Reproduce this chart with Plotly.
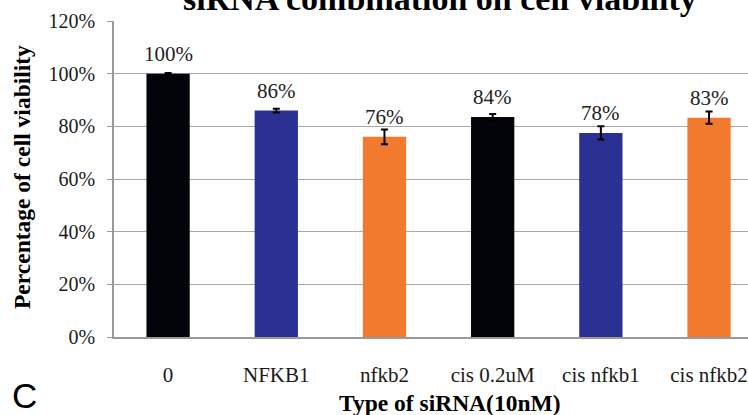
import plotly.graph_objects as go

categories = ["0", "NFKB1", "nfkb2", "cis 0.2uM", "cis nfkb1", "cis nfkb2"]
viability = [100, 86, 76, 83.5, 77.5, 83.3]
errors = [0.3, 0.7, 2.8, 1.2, 2.5, 2.3]
labels = ["100%", "86%", "76%", "84%", "78%", "83%"]
colors = ["#03030a", "#2b3192", "#f27a2e", "#03030a", "#2b3192", "#f27a2e"]
y_ticks = [0, 20, 40, 60, 80, 100, 120]

W, H = 748, 415
L, T, B = 114, 21, 78
plot_h = H - T - B
plot_w = W - L

serif = "Liberation Serif"

fig = go.Figure()
fig.add_trace(go.Bar(
    x=list(range(len(categories))), y=viability,
    marker=dict(color=colors, line=dict(width=0)),
    width=0.4,
    error_y=dict(type="data", array=errors, visible=True, color="black", thickness=2, width=3.5),
    showlegend=False,
))

annotations = []
for i, (v, lab) in enumerate(zip(viability, labels)):
    annotations.append(dict(x=i, y=v, text=lab, showarrow=False, xref="x", yref="y",
                            yanchor="middle", yshift=20,
                            font=dict(family=serif, size=21, color="#222222")))

def px_x(px):
    return (px - L) / plot_w

def px_y(py):
    return (H - B - py) / plot_h

annotations.append(dict(x=px_x(440), y=px_y(-2), xref="paper", yref="paper",
                        text="<b>siRNA combination on cell viability</b>", showarrow=False,
                        xanchor="center", yanchor="middle",
                        font=dict(family=serif, size=34, color="black")))
annotations.append(dict(x=px_x(22), y=px_y(177), xref="paper", yref="paper",
                        text="<b>Percentage of cell viability</b>", showarrow=False,
                        textangle=-90, xanchor="center", yanchor="middle",
                        font=dict(family=serif, size=23.5, color="black")))
annotations.append(dict(x=px_x(450), y=px_y(403), xref="paper", yref="paper",
                        text="<b>Type of siRNA(10nM)</b>", showarrow=False,
                        xanchor="center", yanchor="middle",
                        font=dict(family=serif, size=23.5, color="black")))
annotations.append(dict(x=px_x(24), y=px_y(395), xref="paper", yref="paper",
                        text="C", showarrow=False,
                        xanchor="center", yanchor="middle",
                        font=dict(family="Liberation Sans", size=35, color="black")))

fig.update_layout(
    width=W, height=H,
    margin=dict(l=L, r=0, t=T, b=B, pad=0),
    paper_bgcolor="white", plot_bgcolor="white",
    annotations=annotations,
    xaxis=dict(
        range=[-0.5, 5.36],
        tickmode="array", tickvals=list(range(len(categories))), ticktext=categories,
        showgrid=False, zeroline=False,
        showline=True, linecolor="#9a9a9a", linewidth=1.5,
        ticks="", ticklabelstandoff=18,
        tickfont=dict(family=serif, size=21, color="#1a1a1a"),
    ),
    yaxis=dict(
        range=[0, 120],
        tickmode="array", tickvals=y_ticks, ticktext=[f"{t}%" for t in y_ticks],
        showgrid=True, gridcolor="#a8a8a8", gridwidth=1,
        zeroline=False,
        showline=True, linecolor="#9a9a9a", linewidth=1.5,
        ticks="outside", ticklen=5, tickcolor="#9a9a9a", ticklabelstandoff=8,
        tickfont=dict(family=serif, size=20, color="#1a1a1a"),
    ),
)

fig.write_html("out.html", config={"displayModeBar": False},
               post_script="document.body.style.margin='0';document.body.style.overflow='hidden';")
